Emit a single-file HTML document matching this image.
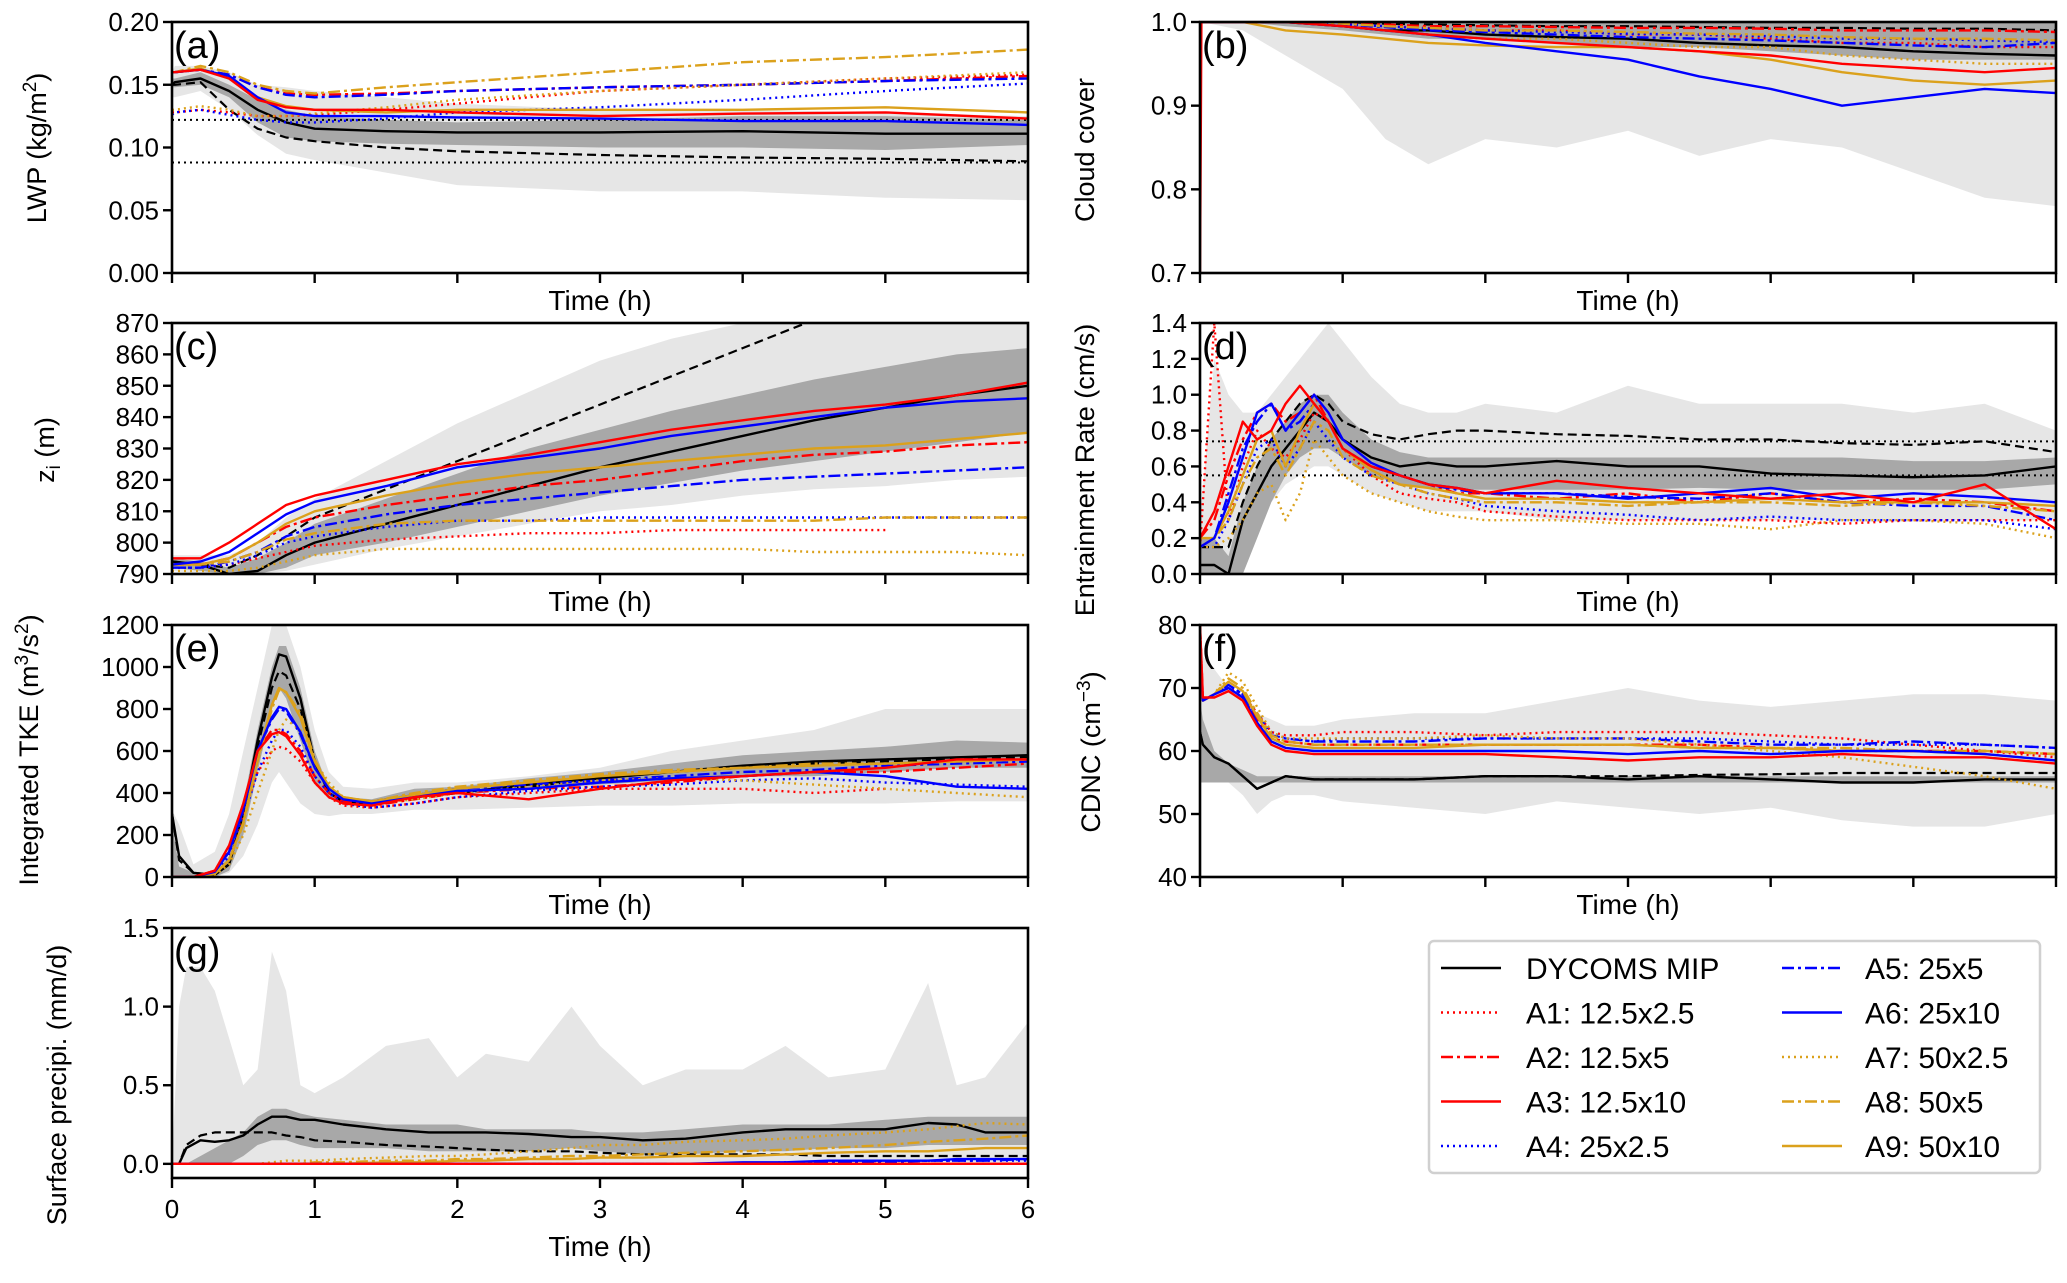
<!DOCTYPE html>
<html><head><meta charset="utf-8">
<style>
html,body{margin:0;padding:0;background:#fff;}
svg{display:block;font-family:"Liberation Sans",sans-serif;}
</style></head>
<body>
<svg id="fig" width="2067" height="1283" viewBox="0 0 2067 1283" xmlns="http://www.w3.org/2000/svg"></svg>
<script>
// ---------- Panel (a) LWP ----------
const aT=[0,0.02,0.2,0.4,0.6,0.8,1,1.5,2,3,4,5,6];
const aLightHi=[0.16,0.165,0.165,0.16,0.15,0.148,0.145,0.14,0.135,0.13,0.13,0.128,0.125];
const aLightLo=[0.14,0.14,0.145,0.13,0.11,0.095,0.09,0.08,0.07,0.065,0.065,0.06,0.058];
const aDarkHi=[0.155,0.155,0.16,0.15,0.138,0.13,0.125,0.122,0.12,0.122,0.125,0.125,0.122];
const aDarkLo=[0.148,0.148,0.15,0.14,0.12,0.108,0.105,0.103,0.102,0.1,0.1,0.098,0.102];
const aMIP=[0.15,0.152,0.155,0.145,0.13,0.12,0.115,0.113,0.112,0.112,0.113,0.111,0.111];
const aMIPdash=[0.15,0.15,0.152,0.13,0.115,0.108,0.105,0.1,0.097,0.094,0.092,0.091,0.089];
const aRef=[0.122,0.088];
const aA1=[0.128,0.128,0.13,0.128,0.125,0.125,0.126,0.13,0.135,0.145,0.15,0.155,0.158];
const aA2=[0.16,0.16,0.162,0.158,0.148,0.143,0.142,0.143,0.145,0.148,0.15,0.153,0.157];
const aA3=[0.16,0.16,0.162,0.155,0.138,0.132,0.13,0.13,0.128,0.125,0.127,0.128,0.123];
const aA4=[0.126,0.128,0.13,0.126,0.122,0.12,0.12,0.123,0.128,0.132,0.138,0.145,0.151];
const aA5=[0.16,0.16,0.162,0.158,0.148,0.142,0.14,0.142,0.145,0.148,0.15,0.153,0.155];
const aA6=[0.16,0.16,0.162,0.157,0.14,0.128,0.125,0.125,0.124,0.123,0.121,0.121,0.118];
const aA7=[0.13,0.13,0.133,0.13,0.125,0.125,0.127,0.132,0.138,0.145,0.15,0.155,0.16];
const aA8=[0.16,0.16,0.165,0.16,0.15,0.145,0.143,0.148,0.152,0.16,0.168,0.172,0.178];
const aA9=[0.16,0.16,0.163,0.155,0.14,0.133,0.13,0.128,0.13,0.13,0.13,0.132,0.128];
const aTicks=[0,0.05,0.1,0.15,0.2];
const aTickLabels=["0.00","0.05","0.10","0.15","0.20"];

// ---------- Panel (b) Cloud cover ----------
const bT=[0,0.01,0.3,0.6,1,1.3,1.6,2,2.5,3,3.5,4,4.5,5,5.5,6];
const bLightHi=[1,1,1,1,1,1,1,1,1,1,1,1,1,1,1,1];
const bLightLo=[1,1,0.99,0.96,0.92,0.86,0.83,0.86,0.85,0.87,0.84,0.86,0.85,0.82,0.79,0.78];
const bDarkHi=[1,1,1,1,1,1,1,1,1,1,1,1,1,1,1,1];
const bDarkLo=[1,1,1,0.995,0.99,0.985,0.98,0.98,0.975,0.97,0.97,0.965,0.96,0.955,0.955,0.955];
const bMIP=[1,1,1,1,0.995,0.99,0.99,0.985,0.982,0.98,0.975,0.972,0.97,0.965,0.962,0.96];
const bMIPdash=[1,1,1,1,1,0.998,0.997,0.996,0.995,0.995,0.994,0.993,0.993,0.992,0.992,0.99];
const bA1=[1,1,1,1,0.998,0.995,0.993,0.99,0.99,0.985,0.985,0.98,0.975,0.975,0.97,0.97];
const bA2=[1,1,1,1,0.998,0.997,0.995,0.995,0.994,0.993,0.993,0.992,0.99,0.99,0.99,0.988];
const bA3=[0.7,1,1,1,0.995,0.99,0.985,0.98,0.975,0.97,0.965,0.96,0.95,0.945,0.94,0.945];
const bA4=[1,1,1,1,0.997,0.995,0.992,0.99,0.988,0.986,0.985,0.983,0.98,0.98,0.978,0.976];
const bA5=[1,1,1,1,0.997,0.994,0.99,0.988,0.985,0.982,0.98,0.978,0.975,0.972,0.97,0.975];
const bA6=[1,1,1,1,0.995,0.99,0.985,0.975,0.965,0.955,0.935,0.92,0.9,0.91,0.92,0.915];
const bA7=[1,1,1,1,0.995,0.99,0.985,0.98,0.98,0.975,0.97,0.97,0.96,0.955,0.95,0.95];
const bA8=[1,1,1,1,0.998,0.995,0.993,0.99,0.99,0.988,0.986,0.985,0.982,0.98,0.98,0.978];
const bA9=[1,1,1,0.99,0.985,0.98,0.975,0.972,0.97,0.97,0.965,0.955,0.94,0.93,0.925,0.93];
const bTicks=[0.7,0.8,0.9,1.0];
const bTickLabels=["0.7","0.8","0.9","1.0"];

// ---------- Panel (c) zi ----------
const cT=[0,0.2,0.4,0.6,0.8,1,1.5,2,2.5,3,3.5,4,4.5,5,5.5,6];
const cLightHi=[796,796,796,800,808,814,826,838,848,858,865,870,870,870,870,870];
const cLightLo=[791,790,790,790,791,793,798,802,806,810,812,815,817,818,820,821];
const cDarkHi=[795,794,792,795,800,806,814,822,830,836,842,847,852,856,860,862];
const cDarkLo=[792,791,790,790,792,796,800,805,810,815,819,823,826,829,832,835];
const cMIP=[794,793,790,791,796,800,806,812,818,824,829,834,839,843,847,850];
const cMIPdash=[794,793,792,796,802,808,817,826,835,844,853,862,871,880,889,898];
const cA1=[792,792,793,795,797,799,801,802,803,803,804,804,804,804,null,null];
const cA2=[793,793,795,800,805,808,812,815,818,820,823,826,828,829,831,832];
const cA3=[795,795,800,806,812,815,820,825,828,832,836,839,842,844,847,851];
const cA4=[792,792,793,796,800,802,805,807,807,808,808,808,808,808,808,808];
const cA5=[792,792,794,797,802,805,809,812,814,816,818,820,821,822,823,824];
const cA6=[793,794,797,803,809,813,818,824,827,830,834,837,840,843,845,846];
const cA7=[791,791,791,792,794,796,798,798,798,798,798,798,797,797,797,796];
const cA8=[793,793,794,797,801,803,806,807,807,807,807,807,807,808,808,808];
const cA9=[793,793,795,800,806,810,815,819,822,824,826,828,830,831,833,835];
const cTicks=[790,800,810,820,830,840,850,860,870];
const cTickLabels=["790","800","810","820","830","840","850","860","870"];

// ---------- Panel (d) Entrainment ----------
const dT=[0,0.1,0.2,0.3,0.4,0.5,0.6,0.7,0.8,0.9,1,1.2,1.4,1.6,1.8,2,2.5,3,3.5,4,4.5,5,5.5,6];
const dLightHi=[0.3,1.2,1.0,0.9,0.9,1.0,1.1,1.2,1.3,1.4,1.3,1.1,0.95,0.9,0.9,0.95,0.9,1.05,0.95,0.95,0.95,0.9,0.95,0.8];
const dLightLo=[0,0,0,0,0.2,0.4,0.5,0.55,0.6,0.6,0.55,0.45,0.4,0.35,0.35,0.35,0.3,0.3,0.3,0.3,0.3,0.3,0.3,0.3];
const dDarkHi=[0.2,0.2,0.1,0.4,0.6,0.75,0.85,0.95,1.0,1.0,0.9,0.75,0.68,0.65,0.65,0.65,0.65,0.65,0.65,0.65,0.65,0.63,0.63,0.65];
const dDarkLo=[0,0,0,0,0.2,0.4,0.55,0.65,0.7,0.7,0.65,0.55,0.5,0.48,0.47,0.47,0.47,0.47,0.48,0.47,0.47,0.47,0.47,0.5];
const dMIP=[0.05,0.05,0,0.3,0.45,0.6,0.7,0.8,0.9,0.85,0.75,0.65,0.6,0.62,0.6,0.6,0.63,0.6,0.6,0.56,0.55,0.54,0.55,0.6];
const dMIPdash=[0.15,0.15,0.15,0.4,0.6,0.75,0.85,0.95,1.0,0.95,0.85,0.78,0.75,0.78,0.8,0.8,0.78,0.77,0.75,0.75,0.73,0.72,0.74,0.68];
const dRef=[0.74,0.55];
const dA1=[0.15,1.4,0.3,0.6,0.8,0.7,0.65,0.75,0.9,0.85,0.7,0.55,0.45,0.42,0.4,0.35,0.32,0.3,0.3,0.3,0.28,0.3,0.3,0.3];
const dA2=[0.2,0.3,0.55,0.75,0.9,0.95,0.85,0.9,1.0,0.85,0.7,0.6,0.55,0.5,0.45,0.45,0.42,0.45,0.4,0.45,0.4,0.42,0.4,0.35];
const dA3=[0.2,0.35,0.6,0.85,0.75,0.8,0.95,1.05,0.95,0.85,0.7,0.6,0.55,0.5,0.48,0.45,0.52,0.48,0.45,0.42,0.45,0.4,0.5,0.25];
const dA4=[0.15,0.15,0.3,0.5,0.7,0.75,0.6,0.7,0.85,0.75,0.65,0.55,0.5,0.45,0.42,0.38,0.35,0.33,0.3,0.32,0.3,0.3,0.3,0.25];
const dA5=[0.15,0.2,0.45,0.7,0.85,0.95,0.8,0.85,0.95,0.85,0.7,0.6,0.55,0.5,0.47,0.45,0.45,0.43,0.42,0.45,0.4,0.38,0.38,0.3];
const dA6=[0.15,0.2,0.4,0.65,0.9,0.95,0.8,0.9,1.0,0.9,0.75,0.62,0.55,0.5,0.48,0.45,0.45,0.42,0.45,0.48,0.42,0.45,0.43,0.4];
const dA7=[0.15,0.15,0.2,0.3,0.45,0.5,0.3,0.45,0.75,0.65,0.55,0.45,0.4,0.35,0.32,0.3,0.3,0.28,0.28,0.25,0.3,0.3,0.28,0.2];
const dA8=[0.15,0.2,0.3,0.5,0.65,0.7,0.55,0.7,0.85,0.8,0.65,0.55,0.5,0.45,0.42,0.4,0.4,0.38,0.4,0.4,0.38,0.4,0.38,0.35];
const dA9=[0.2,0.2,0.35,0.55,0.75,0.8,0.6,0.8,0.95,0.85,0.7,0.58,0.5,0.48,0.45,0.42,0.42,0.4,0.4,0.42,0.4,0.4,0.4,0.38];
const dTicks=[0,0.2,0.4,0.6,0.8,1.0,1.2,1.4];
const dTickLabels=["0.0","0.2","0.4","0.6","0.8","1.0","1.2","1.4"];

// ---------- Panel (e) TKE ----------
const eT=[0,0.05,0.15,0.3,0.4,0.5,0.6,0.7,0.75,0.8,0.9,1,1.1,1.2,1.4,1.7,2,2.5,3,3.5,4,4.5,5,5.5,6];
const eLightHi=[320,250,60,120,300,600,900,1200,1200,1200,1000,700,500,430,420,450,450,480,520,600,650,700,800,800,800];
const eLightLo=[0,0,0,0,20,100,250,450,500,450,350,300,290,300,300,320,320,330,340,340,350,350,350,360,360];
const eDarkHi=[250,50,20,20,100,350,700,1000,1100,1100,900,600,420,380,370,420,430,470,500,540,580,600,620,650,640];
const eDarkLo=[0,0,0,0,30,200,500,800,900,850,650,450,380,350,350,380,400,420,440,460,480,480,500,520,520];
const eMIP=[300,100,20,10,60,300,650,950,1060,1050,850,550,400,360,350,380,400,440,470,500,530,550,560,570,580];
const eMIPdash=[300,80,20,10,60,300,620,900,980,960,800,550,400,360,350,380,400,430,470,500,520,540,550,560,570];
const eA1=[0,0,0,30,120,300,500,600,620,610,550,450,380,340,330,350,380,400,420,420,420,400,420,null,null];
const eA2=[0,0,0,30,130,330,600,700,700,680,600,480,400,360,340,370,400,420,430,450,480,500,500,520,540];
const eA3=[0,0,0,30,150,350,600,680,690,670,580,450,380,350,340,380,400,370,420,460,480,500,520,560,560];
const eA4=[0,0,0,20,100,280,500,650,700,700,620,480,400,350,330,350,380,410,430,440,460,470,450,440,430];
const eA5=[0,0,0,25,120,320,600,750,800,790,680,520,420,370,360,390,420,440,460,480,500,510,530,540,550];
const eA6=[0,0,0,25,120,320,600,760,810,800,690,520,420,370,350,380,410,420,450,470,480,500,480,430,420];
const eA7=[0,0,0,10,60,200,400,600,700,750,700,550,450,380,350,370,400,430,460,470,460,440,420,400,380];
const eA8=[0,0,0,15,80,250,550,800,890,880,780,560,430,380,360,400,430,460,490,510,520,540,540,550,560];
const eA9=[0,0,0,15,80,260,560,820,900,880,760,550,430,380,360,390,420,450,480,500,520,530,540,550,560];
const eTicks=[0,200,400,600,800,1000,1200];
const eTickLabels=["0","200","400","600","800","1000","1200"];

// ---------- Panel (f) CDNC ----------
const fT=[0,0.02,0.1,0.2,0.3,0.4,0.5,0.6,0.8,1,1.5,2,2.5,3,3.5,4,4.5,5,5.5,6];
const fLightHi=[80,75,73,70,68,66,65,64,64,65,66,66,68,70,68,67,68,69,69,68];
const fLightLo=[55,55,55,55,53,50,52,53,53,52,51,50,52,51,50,51,49,48,48,50];
const fDarkHi=[68,65,60,58,57,56,56,56,56,56,56,56,56,56,56,56,56,56,56,56];
const fDarkLo=[55,55,55,55,55,55,55,55,55,55,55,55,55,55,55,55,55,55,55,55];
const fMIP=[63,61,59,58,56,54,55,56,55.5,55.5,55.5,56,56,55.5,56,55.5,55,55,55.5,55.5];
const fMIPdash=[63,61,59,58,56,54,55,56,55.5,55.5,55.5,56,56,56,56.2,56.3,56.5,56.5,56.5,56.5];
const fA1=[80,68,69,70,69,66,63,62.5,62.5,63,63,62.5,63,63,63,62.5,62,61,60,59];
const fA2=[80,68,69,70,68.5,65,62,61.5,61,61,61,61,61,61,61,60.5,60,60,60,59.5];
const fA3=[80,68.5,68.5,69.5,68,64,61,60,59.5,59.5,59.5,59.5,59,58.5,59,59,59.5,59,59,58];
const fA4=[75,68,69,70.5,69,66,63,62,61.5,62,62,62,62,62,62,61.5,61,61,61,60.5];
const fA5=[75,68,69,70.5,69,65.5,62.5,62,61.5,61.5,61.5,62,62,62,61.5,61,61,61.5,61,60.5];
const fA6=[75,68,69,70,68.5,64.5,61.5,60.5,60,60,60,60,60,59.5,60,59.5,60,60,59.5,58.5];
const fA7=[70,68,69,72.5,71,67,63,62,62,62,62,62.5,62,62,61,60,59,57.5,56,54];
const fA8=[70,68,69,71.5,70,66,62.5,61.5,61,61,61,61,61,61,60.5,60.5,60.5,60,60,59.5];
const fA9=[70,68,69,71,69.5,65.5,62,61,60.5,60.5,60.5,61,61,61,60.5,60.5,60,60,59.5,58.5];
const fTicks=[40,50,60,70,80];
const fTickLabels=["40","50","60","70","80"];

// ---------- Panel (g) Precip ----------
const gT=[0,0.05,0.1,0.2,0.3,0.4,0.5,0.6,0.7,0.8,0.9,1,1.2,1.5,1.8,2,2.2,2.5,2.8,3,3.3,3.6,4,4.3,4.6,5,5.3,5.5,5.7,6];
const gLightHi=[0,1.0,1.25,1.25,1.1,0.8,0.5,0.6,1.35,1.1,0.5,0.45,0.55,0.75,0.8,0.55,0.7,0.65,1.0,0.75,0.5,0.6,0.6,0.75,0.55,0.6,1.15,0.5,0.55,0.9];
const gLightLo=[0,0,0,0,0,0,0,0,0,0,0,0,0,0,0,0,0,0,0,0,0,0,0,0,0,0,0,0,0,0];
const gDarkHi=[0,0,0,0.05,0.1,0.15,0.2,0.3,0.35,0.35,0.32,0.3,0.28,0.25,0.25,0.25,0.22,0.22,0.22,0.2,0.2,0.22,0.25,0.25,0.25,0.28,0.3,0.3,0.3,0.3];
const gDarkLo=[0,0,0,0,0,0,0.05,0.12,0.15,0.15,0.12,0.1,0.1,0.1,0.08,0.08,0.08,0.08,0.1,0.08,0.06,0.06,0.08,0.08,0.1,0.1,0.12,0.12,0.12,0.12];
const gMIP=[0,0,0.1,0.15,0.14,0.15,0.18,0.25,0.3,0.3,0.28,0.28,0.25,0.22,0.2,0.2,0.2,0.19,0.17,0.17,0.15,0.16,0.2,0.22,0.22,0.22,0.26,0.25,0.2,0.2];
const gMIPdash=[0,0,0.12,0.18,0.2,0.2,0.2,0.2,0.2,0.18,0.17,0.15,0.14,0.12,0.11,0.1,0.09,0.08,0.08,0.07,0.06,0.06,0.06,0.06,0.05,0.05,0.05,0.05,0.05,0.05];
const gA1=[0,0,0,0,0,0,0,0,0,0,0,0,0,0,0,0,0,0,0,0,0,0,0,0,0,0,0,0,0,0];
const gA2=[0,0,0,0,0,0,0,0,0,0,0,0,0,0,0,0,0,0,0,0,0,0,0,0,0,0,0,0,0,0];
const gA3=[0,0,0,0,0,0,0,0,0,0,0,0,0,0,0,0,0,0,0,0,0,0,0,0,0,0,0,0,0,0];
const gA4=[0,0,0,0,0,0,0,0,0,0,0,0,0,0,0,0,0,0,0,0,0,0,0,0.01,0.01,0.02,0.02,0.02,0.02,0.02];
const gA5=[0,0,0,0,0,0,0,0,0,0,0,0,0,0,0,0,0,0,0,0,0,0,0,0,0.01,0.01,0.02,0.02,0.02,0.03];
const gA6=[0,0,0,0,0,0,0,0,0,0,0,0,0,0,0,0,0,0,0,0,0,0,0.01,0.01,0.02,0.02,0.02,0.03,0.03,0.03];
const gA7=[0,0,0,0,0,0,0,0,0.01,0.02,0.02,0.02,0.03,0.04,0.05,0.05,0.06,0.08,0.1,0.12,0.12,0.14,0.15,0.16,0.18,0.2,0.22,0.24,0.26,0.25];
const gA8=[0,0,0,0,0,0,0,0,0,0,0,0.01,0.01,0.02,0.02,0.03,0.03,0.04,0.05,0.05,0.06,0.07,0.08,0.09,0.1,0.12,0.14,0.15,0.16,0.18];
const gA9=[0,0,0,0,0,0,0,0,0,0,0,0,0,0.01,0.01,0.02,0.02,0.03,0.03,0.04,0.04,0.05,0.05,0.06,0.07,0.08,0.08,0.09,0.1,0.1];
const gTicks=[0,0.5,1.0,1.5];
const gTickLabels=["0.0","0.5","1.0","1.5"];

const xTicks=[0,1,2,3,4,5,6];
const xTickLabels=["0","1","2","3","4","5","6"];

// ---------- rendering ----------
const NS="http://www.w3.org/2000/svg";
const svg=document.getElementById('fig');
function mk(tag,attrs,parent){const e=document.createElementNS(NS,tag);for(const k in attrs)e.setAttribute(k,attrs[k]);(parent||svg).appendChild(e);return e;}
const RED="#ff0000",BLUE="#0000ff",ORG="#dba11c";
const STY={
 MIP:{c:"#000",d:"",w:2.4}, MIPdash:{c:"#000",d:"9,5",w:2.2},
 A1:{c:RED,d:"2,4",w:2.4}, A2:{c:RED,d:"12,4,3,4",w:2.4}, A3:{c:RED,d:"",w:2.4},
 A4:{c:BLUE,d:"2,4",w:2.4}, A5:{c:BLUE,d:"12,4,3,4",w:2.4}, A6:{c:BLUE,d:"",w:2.4},
 A7:{c:ORG,d:"2,4",w:2.4}, A8:{c:ORG,d:"12,4,3,4",w:2.4}, A9:{c:ORG,d:"",w:2.4}
};
const LX0=172,LX1=1028,RX0=1200,RX1=2056;
const panels=[
 {id:"a",x0:LX0,x1:LX1,y0:22,y1:273,ymin:0,ymax:0.2,T:aT,L:[aLightLo,aLightHi],D:[aDarkLo,aDarkHi],ref:aRef,
  S:{MIP:aMIP,MIPdash:aMIPdash,A1:aA1,A2:aA2,A4:aA4,A5:aA5,A7:aA7,A8:aA8,A9:aA9,A6:aA6,A3:aA3},ticks:aTicks,tl:aTickLabels,
  ylabel:"LWP (kg/m<tspan dy='-10' font-size='19'>2</tspan><tspan dy='10'>)</tspan>",lx:46,ly:148},
 {id:"b",x0:RX0,x1:RX1,y0:22,y1:273,ymin:0.7,ymax:1.0,T:bT,L:[bLightLo,bLightHi],D:[bDarkLo,bDarkHi],
  S:{MIP:bMIP,MIPdash:bMIPdash,A1:bA1,A2:bA2,A4:bA4,A5:bA5,A7:bA7,A8:bA8,A9:bA9,A6:bA6,A3:bA3},ticks:bTicks,tl:bTickLabels,
  ylabel:"Cloud cover",lx:1094,ly:150},
 {id:"c",x0:LX0,x1:LX1,y0:323,y1:574,ymin:790,ymax:870,T:cT,L:[cLightLo,cLightHi],D:[cDarkLo,cDarkHi],
  S:{MIP:cMIP,MIPdash:cMIPdash,A1:cA1,A2:cA2,A4:cA4,A5:cA5,A7:cA7,A8:cA8,A9:cA9,A6:cA6,A3:cA3},ticks:cTicks,tl:cTickLabels,
  ylabel:"z<tspan dy='6' font-size='19'>i</tspan><tspan dy='-6'> (m)</tspan>",lx:54,ly:450},
 {id:"d",x0:RX0,x1:RX1,y0:323,y1:574,ymin:0,ymax:1.4,T:dT,L:[dLightLo,dLightHi],D:[dDarkLo,dDarkHi],ref:dRef,
  S:{MIP:dMIP,MIPdash:dMIPdash,A1:dA1,A2:dA2,A4:dA4,A5:dA5,A7:dA7,A8:dA8,A9:dA9,A6:dA6,A3:dA3},ticks:dTicks,tl:dTickLabels,
  ylabel:"Entrainment Rate (cm/s)",lx:1094,ly:470},
 {id:"e",x0:LX0,x1:LX1,y0:625,y1:877,ymin:0,ymax:1200,T:eT,L:[eLightLo,eLightHi],D:[eDarkLo,eDarkHi],
  S:{MIP:eMIP,MIPdash:eMIPdash,A1:eA1,A2:eA2,A4:eA4,A5:eA5,A7:eA7,A8:eA8,A9:eA9,A6:eA6,A3:eA3},ticks:eTicks,tl:eTickLabels,
  ylabel:"Integrated TKE (m<tspan dy='-10' font-size='19'>3</tspan><tspan dy='10'>/s</tspan><tspan dy='-10' font-size='19'>2</tspan><tspan dy='10'>)</tspan>",lx:38,ly:750},
 {id:"f",x0:RX0,x1:RX1,y0:625,y1:877,ymin:40,ymax:80,T:fT,L:[fLightLo,fLightHi],D:[fDarkLo,fDarkHi],
  S:{MIP:fMIP,MIPdash:fMIPdash,A1:fA1,A2:fA2,A4:fA4,A5:fA5,A7:fA7,A8:fA8,A9:fA9,A6:fA6,A3:fA3},ticks:fTicks,tl:fTickLabels,
  ylabel:"CDNC (cm<tspan dy='-10' font-size='19'>−3</tspan><tspan dy='10'>)</tspan>",lx:1100,ly:752},
 {id:"g",x0:LX0,x1:LX1,y0:928,y1:1178,ymin:-0.09,ymax:1.5,T:gT,L:[gLightLo,gLightHi],D:[gDarkLo,gDarkHi],
  S:{MIP:gMIP,MIPdash:gMIPdash,A1:gA1,A2:gA2,A4:gA4,A5:gA5,A7:gA7,A8:gA8,A9:gA9,A6:gA6,A3:gA3},ticks:gTicks,tl:gTickLabels,
  ylabel:"Surface precipi. (mm/d)",lx:66,ly:1085,xlabels:true}
];
const defs=mk('defs',{});
panels.forEach(p=>{
 const sx=t=>p.x0+(t/6)*(p.x1-p.x0);
 const sy=v=>p.y1-(v-p.ymin)/(p.ymax-p.ymin)*(p.y1-p.y0);
 const cp=mk('clipPath',{id:'clip-'+p.id},defs);
 mk('rect',{x:p.x0,y:p.y0,width:p.x1-p.x0,height:p.y1-p.y0},cp);
 const g=mk('g',{'clip-path':'url(#clip-'+p.id+')'});
 
 
 function band(lo,hi,fill,name){
  let d='';p.T.forEach((t,i)=>{d+=(i?'L':'M')+sx(t).toFixed(1)+','+sy(hi[i]).toFixed(1);});
  for(let i=p.T.length-1;i>=0;i--)d+='L'+sx(p.T[i]).toFixed(1)+','+sy(lo[i]).toFixed(1);
  const e=mk('path',{d:d+'Z',fill:fill,stroke:'none'},g);
  
  
 }
 band(p.L[0],p.L[1],'#e6e6e6','panel-'+p.id+'-range-band');
 band(p.D[0],p.D[1],'#a8a8a8','panel-'+p.id+'-quartile-band');
 if(p.ref){p.ref.forEach((v,i)=>{
  const e=mk('line',{x1:sx(0),x2:sx(6),y1:sy(v),y2:sy(v),stroke:'#000','stroke-width':2,'stroke-dasharray':'2,4'},g);
  
  
 });}
 for(const k in p.S){
  const vals=p.S[k],st=STY[k];let d='',pen=false;
  p.T.forEach((t,i)=>{const v=vals[i];if(v==null){pen=false;return;}d+=(pen?'L':'M')+sx(t).toFixed(1)+','+sy(v).toFixed(1);pen=true;});
  const e=mk('path',{d:d,fill:'none',stroke:st.c,'stroke-width':st.w,'stroke-dasharray':st.d,'stroke-linejoin':'round'},g);
  
  
 }
 const fr=mk('rect',{x:p.x0,y:p.y0,width:p.x1-p.x0,height:p.y1-p.y0,fill:'none',stroke:'#000','stroke-width':2.6});
 
 
 p.ticks.forEach((v,i)=>{
  const tk=mk('line',{x1:p.x0-9,x2:p.x0,y1:sy(v),y2:sy(v),stroke:'#000','stroke-width':2.4});
  
  
  const tx=mk('text',{x:p.x0-13,y:sy(v)+9,'text-anchor':'end','font-size':26});
  tx.textContent=p.tl[i];
  
  
 });
 xTicks.forEach((t,i)=>{
  const tk=mk('line',{x1:sx(t),x2:sx(t),y1:p.y1,y2:p.y1+10,stroke:'#000','stroke-width':2.4});
  
  
  if(p.xlabels){
   const tx=mk('text',{x:sx(t),y:p.y1+40,'text-anchor':'middle','font-size':26});
   tx.textContent=xTickLabels[i];
   
   
  }
 });
 const xl=mk('text',{x:(p.x0+p.x1)/2,y:p.y1+(p.xlabels?78:37),'text-anchor':'middle','font-size':28});
 xl.textContent='Time (h)';
 
 
 const yl=mk('text',{x:p.lx,y:p.ly,'text-anchor':'middle','font-size':27,transform:'rotate(-90 '+p.lx+' '+p.ly+')'});
 yl.innerHTML=p.ylabel;
 
 
 const pl=mk('text',{x:p.x0+2,y:p.y0+36,'font-size':38});
 pl.textContent='('+p.id+')';
 
 
});

// ---------- legend ----------
const legNames=["DYCOMS MIP","A1: 12.5x2.5","A2: 12.5x5","A3: 12.5x10","A4: 25x2.5","A5: 25x5","A6: 25x10","A7: 50x2.5","A8: 50x5","A9: 50x10"];
const legKeys=["MIP","A1","A2","A3","A4","A5","A6","A7","A8","A9"];
const lg=mk('g',{});


mk('rect',{x:1429,y:941,width:611,height:232,rx:5,fill:'#fff',stroke:'#d0d0d0','stroke-width':2.5},lg);
legNames.forEach((n,i)=>{
 const col=i<5?0:1,row=i%5;
 const lx=col?1782:1441,tx=col?1865:1526,y=968+row*44.5;
 const st=STY[legKeys[i]];
 const en=mk('g',{},lg);
 
 
 mk('line',{x1:lx,x2:lx+60,y1:y,y2:y,stroke:st.c,'stroke-width':st.w,'stroke-dasharray':st.d},en);
 const t=mk('text',{x:tx,y:y+11,'font-size':30},en);
 t.textContent=n;
});
</script>
</body></html>
